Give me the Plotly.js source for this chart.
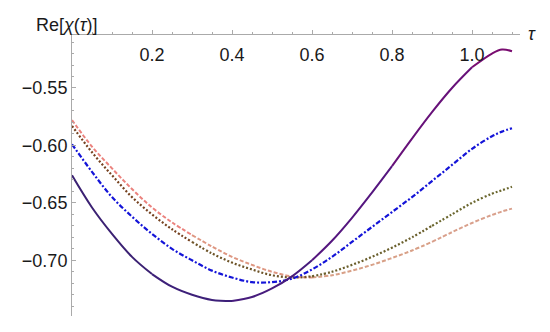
<!DOCTYPE html>
<html>
<head>
<meta charset="utf-8">
<script src="https://cdn.plot.ly/plotly-3.0.1.min.js"></script>
<style>html,body{margin:0;padding:0;background:#fff;}#chart{width:550px;height:332px;}</style>
</head>
<body>
<div id="chart"></div>
<script>
const tau = [0,0.05,0.1,0.15,0.2,0.25,0.3,0.35,0.4,0.45,0.5,0.55,0.6,0.65,0.7,0.75,0.8,0.85,0.9,0.95,1.0,1.05,1.075,1.1];
const solidPurple = [-0.626,-0.654,-0.677,-0.697,-0.712,-0.723,-0.730,-0.7345,-0.7355,-0.732,-0.7245,-0.714,-0.700,-0.683,-0.663,-0.641,-0.618,-0.594,-0.571,-0.550,-0.532,-0.520,-0.5165,-0.518];
const dotDashBlue = [-0.599,-0.623,-0.645,-0.662,-0.677,-0.690,-0.700,-0.709,-0.715,-0.719,-0.719,-0.716,-0.708,-0.697,-0.684,-0.671,-0.658,-0.645,-0.631,-0.617,-0.603,-0.592,-0.588,-0.585];
const dottedBrown = [-0.583,-0.606,-0.626,-0.645,-0.660,-0.673,-0.684,-0.694,-0.702,-0.708,-0.713,-0.715,-0.714,-0.710,-0.704,-0.697,-0.689,-0.680,-0.670,-0.660,-0.650,-0.642,-0.639,-0.636];
const dashedPink = [-0.578,-0.601,-0.620,-0.638,-0.654,-0.667,-0.678,-0.688,-0.697,-0.704,-0.710,-0.714,-0.715,-0.713,-0.709,-0.704,-0.698,-0.6915,-0.684,-0.6755,-0.6675,-0.6605,-0.6575,-0.655];
const xTickVals = [0.2,0.4,0.6,0.8,1.0];
const xTickText = ["0.2","0.4","0.6","0.8","1.0"];
const yTickVals = [-0.70,-0.65,-0.60,-0.55];
const yTickText = ["\u22120.70","\u22120.65","\u22120.60","\u22120.55"];

// colour gradients along each curve (styling only)
function hex2rgb(h){return [parseInt(h.slice(1,3),16),parseInt(h.slice(3,5),16),parseInt(h.slice(5,7),16)];}
function mix(stops, t){
  const n = stops.length - 1; const p = Math.min(n - 1e-9, Math.max(0, t * n)); const i = Math.floor(p); const f = p - i;
  const a = hex2rgb(stops[i]), b = hex2rgb(stops[i+1]);
  return 'rgb(' + a.map((v,k)=>Math.round(v + (b[k]-v)*f)).join(',') + ')';
}
function gradientTraces(xs, ys, stops, lineBase, chunk){
  const out = [];
  for (let s = 0; s < xs.length - 1; s += chunk) {
    const e = Math.min(xs.length - 1, s + chunk);
    const tMid = ((s + e) / 2) / (xs.length - 1);
    out.push({x: xs.slice(s, e + 1), y: ys.slice(s, e + 1), mode: 'lines', hoverinfo: 'skip',
      line: Object.assign({}, lineBase, {color: mix(stops, tMid)})});
  }
  return out;
}

const traces = [].concat(
  gradientTraces(tau, dashedPink, ['#f2787a','#d8a084','#d9a08e'], {width: 2, dash: '4px,2px', shape: 'spline'}, 6),
  gradientTraces(tau, dottedBrown, ['#7a3a1c','#6a5a2a','#6b6a30'], {width: 2.2, dash: '2px,2px', shape: 'spline'}, 6),
  [{x: tau, y: dotDashBlue, mode: 'lines', line: {color: '#1414d8', width: 2.2, dash: '5px,2px,2px,2px', shape: 'spline'}}],
  gradientTraces(tau, solidPurple, ['#3a2270','#3e1f7c','#5a1480','#800a6c'], {width: 2, shape: 'spline'}, 4)
);

const font = {family: 'Liberation Sans, Arial, sans-serif', size: 18, color: '#1a1a1a'};
const layout = {
  width: 550, height: 332,
  margin: {l: 72, r: 30, t: 34, b: 16},
  paper_bgcolor: '#fff', plot_bgcolor: '#fff',
  showlegend: false,
  font: font,
  xaxis: {
    range: [0, 1.12], anchor: 'free', position: 1, side: 'bottom',
    showgrid: false, zeroline: false, showline: true, linecolor: '#aaaaaa', linewidth: 1,
    ticks: 'inside', ticklen: 4, tickcolor: '#aaaaaa', tickwidth: 1,
    tickvals: xTickVals, ticktext: xTickText, tickfont: font, ticklabelstandoff: 4,
    minor: {dtick: 0.05, tick0: 0, ticks: 'inside', ticklen: 2, tickcolor: '#aaaaaa', showgrid: false}
  },
  yaxis: {
    range: [-0.7485, -0.503],
    showgrid: false, zeroline: false, showline: true, linecolor: '#aaaaaa', linewidth: 1,
    ticks: 'inside', ticklen: 4, tickcolor: '#aaaaaa', tickwidth: 1,
    tickvals: yTickVals, ticktext: yTickText, tickfont: font,
    minor: {dtick: 0.01, tick0: 0, ticks: 'inside', ticklen: 2, tickcolor: '#aaaaaa', showgrid: false}
  },
  annotations: [
    {xref: 'paper', yref: 'paper', x: -0.085, y: 1.0, xanchor: 'left', yanchor: 'bottom', yshift: -3,
     text: 'Re[<i>χ</i>(<i>τ</i>)]', showarrow: false, font: font},
    {xref: 'paper', yref: 'paper', x: 1.0, y: 1.0, xanchor: 'left', yanchor: 'middle', xshift: 6, yshift: 0,
     text: '<i>τ</i>', showarrow: false, font: font}
  ]
};
Plotly.newPlot('chart', traces, layout, {staticPlot: true, displayModeBar: false});
</script>
</body>
</html>
